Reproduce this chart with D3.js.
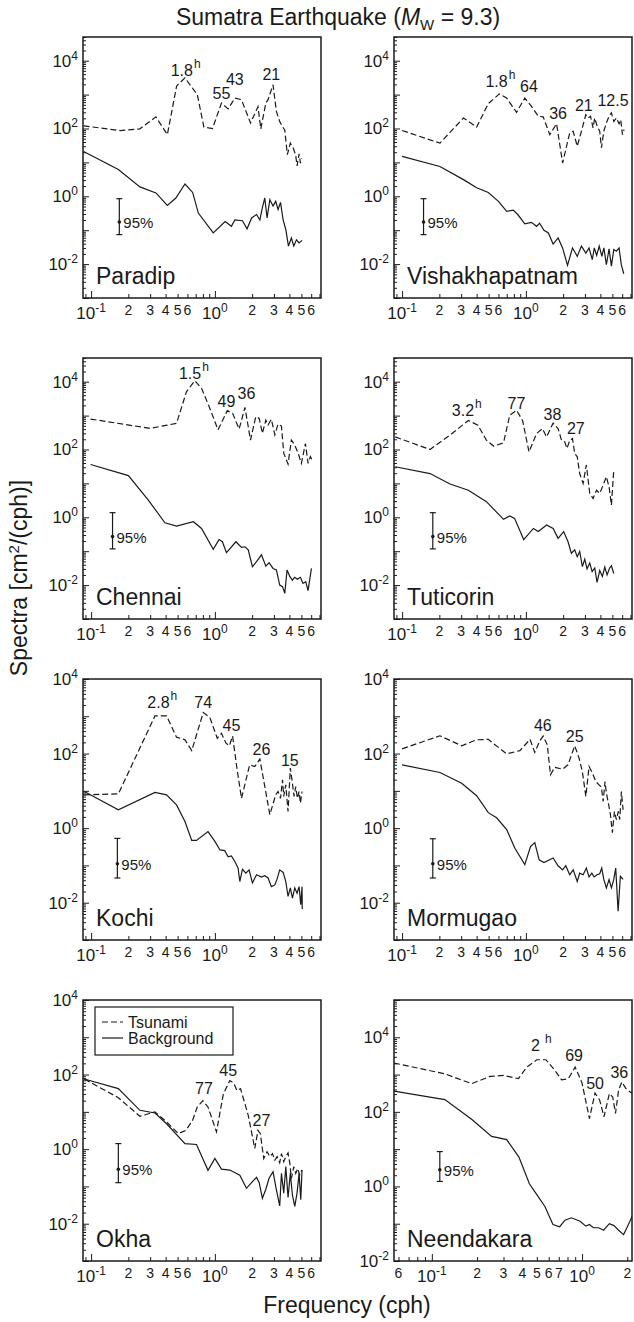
<!DOCTYPE html>
<html>
<head>
<meta charset="utf-8">
<script src="https://cdn.jsdelivr.net/npm/d3@7"></script>
<style>
  body { margin: 0; background: #fff; }
  svg { display: block; font-family: "Liberation Sans", Arial, Helvetica, sans-serif; }
</style>
</head>
<body>
<script>
// spectra: [frequency (cph), spectral density (cm^2/cph)]
var paradipTsunami = [[0.087,120],[0.171,87],[0.248,98],[0.334,220],[0.413,66],[0.491,1800],[0.573,3100],[0.721,1000],[0.815,110],[0.957,100],[1.13,560],[1.28,380],[1.45,790],[1.64,710],[1.94,145],[2.23,440],[2.35,98],[2.58,560],[2.69,710],[2.95,1950],[3.14,320],[3.34,160],[3.52,115],[3.67,89],[3.85,17],[4.07,37],[4.29,27],[4.50,16],[4.61,7.9],[4.79,18],[4.91,9.5],[5.04,13]];
var paradipBackground = [[0.087,21],[0.166,6.2],[0.248,1.9],[0.334,1.26],[0.413,0.54],[0.484,0.89],[0.573,2.3],[0.661,1.3],[0.735,0.32],[0.97,0.083],[1.21,0.18],[1.36,0.13],[1.45,0.20],[1.67,0.19],[1.82,0.11],[1.98,0.23],[2.17,0.29],[2.31,0.20],[2.42,0.46],[2.53,0.89],[2.64,0.23],[2.78,0.79],[2.95,0.52],[3.10,0.71],[3.24,0.41],[3.39,0.66],[3.56,0.20],[3.74,0.105],[3.93,0.034],[4.15,0.059],[4.34,0.034],[4.56,0.052],[4.79,0.042],[5.06,0.050]];
var paradipPeaks = [["1.8", true, 0.54, 3600], ["55", false, 1.13, 760], ["43", false, 1.45, 1950], ["21", false, 2.86, 2750]];
var paradipBar = [0.169, 0.85, 0.175, 0.074];

var vishaTsunami = [[0.10,87],[0.202,37],[0.313,204],[0.40,110],[0.497,540],[0.61,1050],[0.70,790],[0.84,300],[0.98,790],[1.11,450],[1.26,230],[1.38,220],[1.56,66],[1.77,138],[1.98,9.6],[2.26,74],[2.41,83],[2.60,30],[2.81,83],[3.05,257],[3.18,204],[3.33,230],[3.49,104],[3.60,204],[3.76,120],[3.95,83],[4.08,27],[4.26,83],[4.47,145],[4.70,230],[4.91,290],[5.13,162],[5.39,204],[5.66,138],[5.84,182],[6.03,66],[6.21,93]];
var vishaBackground = [[0.10,15],[0.202,7.6],[0.313,3.1],[0.40,1.78],[0.497,1.3],[0.60,0.71],[0.70,0.36],[0.79,0.39],[0.86,0.29],[0.98,0.155],[1.11,0.17],[1.22,0.13],[1.29,0.16],[1.40,0.10],[1.52,0.083],[1.66,0.039],[1.82,0.059],[1.98,0.030],[2.17,0.0092],[2.38,0.030],[2.60,0.017],[2.81,0.034],[3.05,0.021],[3.24,0.030],[3.44,0.0135],[3.57,0.030],[3.73,0.018],[3.91,0.034],[4.11,0.017],[4.27,0.030],[4.47,0.0096],[4.70,0.028],[4.91,0.0087],[5.13,0.027],[5.39,0.024],[5.66,0.030],[5.90,0.0096],[6.18,0.0052]];
var vishaPeaks = [["1.8", true, 0.58, 1700], ["64", false, 1.06, 1170], ["36", false, 1.82, 190], ["21", false, 2.94, 320], ["12.5", false, 5.06, 470]];
var vishaBar = [0.149, 0.85, 0.175, 0.074];

var chennaiTsunami = [[0.099,790],[0.299,420],[0.49,590],[0.59,5100],[0.69,10700],[0.78,6400],[0.90,1820],[1.06,380],[1.26,1400],[1.39,1170],[1.57,400],[1.75,1740],[1.94,190],[2.14,930],[2.28,830],[2.42,300],[2.58,740],[2.69,530],[2.86,780],[3.05,270],[3.24,560],[3.45,490],[3.60,78],[3.90,37],[4.15,190],[4.42,135],[4.70,78],[5.00,39],[5.39,150],[5.66,39],[5.91,62],[6.10,49]];
var chennaiBackground = [[0.099,36],[0.20,17],[0.29,3.2],[0.395,0.69],[0.49,0.55],[0.67,0.74],[0.78,0.47],[0.97,0.114],[1.08,0.22],[1.15,0.19],[1.24,0.091],[1.48,0.19],[1.64,0.13],[1.75,0.135],[1.86,0.109],[2.01,0.035],[2.17,0.049],[2.38,0.078],[2.58,0.036],[2.74,0.046],[2.95,0.031],[3.14,0.028],[3.34,0.010],[3.52,0.009],[3.67,0.0057],[3.83,0.028],[4.03,0.018],[4.23,0.014],[4.42,0.017],[4.64,0.0148],[4.91,0.017],[5.15,0.0112],[5.42,0.0126],[5.66,0.0069],[5.84,0.0148],[6.03,0.031]];
var chennaiPeaks = [["1.5", true, 0.63, 12000], ["49", false, 1.24, 1740], ["36", false, 1.80, 3000]];
var chennaiBar = [0.149, 1.37, 0.27, 0.117];

var tuticorinTsunami = [[0.088,235],[0.168,100],[0.244,265],[0.343,720],[0.41,520],[0.48,188],[0.55,125],[0.66,158],[0.74,1020],[0.84,1440],[0.94,720],[1.06,85],[1.22,295],[1.36,415],[1.47,235],[1.66,600],[1.82,415],[1.94,188],[2.06,168],[2.15,107],[2.26,188],[2.38,210],[2.48,76],[2.60,61],[2.72,19.5],[2.90,10],[3.08,35],[3.28,5.1],[3.49,3.6],[3.72,6.3],[3.95,5.1],[4.21,8.9],[4.47,15.8],[4.70,7.9],[4.91,2.3],[5.13,25]];
var tuticorinBackground = [[0.088,31],[0.168,19.5],[0.244,9.6],[0.343,6.3],[0.48,2.9],[0.66,0.87],[0.74,1.1],[0.81,0.93],[0.96,0.22],[1.15,0.47],[1.26,0.38],[1.47,0.59],[1.66,0.47],[1.82,0.24],[2.02,0.38],[2.19,0.19],[2.33,0.087],[2.48,0.11],[2.60,0.069],[2.72,0.098],[2.86,0.035],[2.99,0.058],[3.12,0.030],[3.28,0.045],[3.43,0.025],[3.60,0.032],[3.76,0.012],[3.95,0.027],[4.15,0.018],[4.34,0.034],[4.53,0.020],[4.75,0.032],[4.91,0.037],[5.13,0.022]];
var tuticorinPeaks = [["3.2", true, 0.31, 980], ["77", false, 0.84, 1600], ["38", false, 1.64, 760], ["27", false, 2.53, 295]];
var tuticorinBar = [0.177, 1.37, 0.27, 0.117];

var kochiTsunami = [[0.088,7.8],[0.166,8.3],[0.328,1020],[0.407,1020],[0.49,275],[0.573,234],[0.65,120],[0.805,1260],[0.91,930],[1.045,257],[1.13,350],[1.23,190],[1.31,162],[1.39,295],[1.50,45],[1.64,6.3],[1.91,50],[2.10,45],[2.31,71],[2.78,2.3],[3.10,7.8],[3.24,9.6],[3.39,6.3],[3.52,19.7],[3.60,7.1],[3.74,14.5],[3.90,2.8],[4.07,41],[4.23,16],[4.36,7.1],[4.50,13],[4.64,6.3],[4.79,9.6],[4.91,4.7],[5.06,9.6]];
var kochiBackground = [[0.088,9.6],[0.166,3.1],[0.328,9.1],[0.407,7.8],[0.49,4.2],[0.573,1.5],[0.65,0.47],[0.71,0.47],[0.88,0.81],[1.0,0.44],[1.10,0.26],[1.20,0.25],[1.28,0.17],[1.36,0.18],[1.45,0.128],[1.54,0.085],[1.59,0.037],[1.67,0.079],[1.78,0.062],[1.89,0.076],[2.01,0.034],[2.17,0.056],[2.38,0.049],[2.53,0.053],[2.69,0.046],[2.86,0.027],[3.05,0.030],[3.18,0.043],[3.34,0.076],[3.56,0.065],[3.74,0.037],[3.90,0.0148],[4.07,0.025],[4.23,0.0133],[4.42,0.025],[4.61,0.018],[4.79,0.027],[4.94,0.0089],[5.06,0.027],[5.08,0.0068]];
var kochiPeaks = [["2.8", true, 0.35, 1630], ["74", false, 0.805, 1630], ["45", false, 1.36, 415], ["26", false, 2.38, 92], ["15", false, 4.03, 47]];
var kochiBar = [0.163, 0.53, 0.111, 0.046];

var mormugaoTsunami = [[0.10,134],[0.202,300],[0.303,162],[0.40,234],[0.497,240],[0.70,98],[0.895,120],[1.08,240],[1.18,107],[1.30,224],[1.38,295],[1.49,170],[1.58,27],[1.71,43],[1.98,38],[2.19,50],[2.48,162],[2.69,75],[2.86,33],[3.05,7.1],[3.24,45],[3.45,30],[3.67,17.8],[3.90,14.5],[4.07,12.6],[4.21,5.2],[4.36,17.8],[4.47,8.7],[4.64,4.7],[4.82,2.3],[5.00,0.76],[5.19,2.8],[5.39,1.7],[5.58,2.8],[5.73,1.7],[5.91,9.6],[6.10,3.1]];
var mormugaoBackground = [[0.10,50],[0.202,31],[0.303,16],[0.40,7.4],[0.497,2.6],[0.58,1.9],[0.70,0.91],[0.815,0.29],[0.98,0.105],[1.09,0.32],[1.18,0.41],[1.28,0.141],[1.40,0.12],[1.66,0.158],[1.82,0.098],[1.98,0.076],[2.10,0.098],[2.26,0.056],[2.41,0.076],[2.60,0.037],[2.72,0.062],[2.90,0.056],[3.08,0.085],[3.24,0.049],[3.41,0.062],[3.56,0.049],[3.76,0.056],[3.95,0.060],[4.10,0.085],[4.26,0.042],[4.47,0.025],[4.70,0.042],[4.91,0.025],[5.13,0.042],[5.32,0.085],[5.56,0.0059],[5.80,0.051],[6.10,0.042]];
var mormugaoPeaks = [["46", false, 1.37, 415], ["25", false, 2.48, 210]];
var mormugaoBar = [0.177, 0.52, 0.111, 0.046];

var okhaTsunami = [[0.088,76],[0.166,24],[0.248,7.6],[0.328,10],[0.407,5.4],[0.506,2.6],[0.583,3.2],[0.66,5.9],[0.72,13.5],[0.80,20],[0.88,13.5],[1.03,2.9],[1.17,30],[1.32,69],[1.42,59],[1.51,37],[1.61,42],[1.86,8.1],[2.10,1.04],[2.23,3.2],[2.33,2.6],[2.48,0.56],[2.64,0.85],[2.78,0.63],[2.92,0.76],[3.05,0.51],[3.18,0.63],[3.34,0.43],[3.45,0.76],[3.60,0.46],[3.74,0.63],[3.90,0.79],[4.03,0.42],[4.15,0.165],[4.34,0.34],[4.50,0.224],[4.67,0.30],[4.84,0.20],[5.03,0.275]];
var okhaBackground = [[0.088,76],[0.166,42],[0.248,11],[0.328,9.3],[0.407,4.8],[0.573,1.41],[0.71,1.33],[0.88,0.27],[1.0,0.56],[1.13,0.29],[1.32,0.275],[1.59,0.20],[1.80,0.089],[2.01,0.134],[2.17,0.175],[2.28,0.126],[2.42,0.048],[2.58,0.084],[2.74,0.165],[2.95,0.25],[3.14,0.081],[3.34,0.030],[3.45,0.224],[3.60,0.066],[3.74,0.34],[3.90,0.051],[4.07,0.224],[4.23,0.059],[4.42,0.029],[4.61,0.066],[4.79,0.224],[4.94,0.044],[5.06,0.275]];
var okhaPeaks = [["77", false, 0.815, 30], ["45", false, 1.28, 94], ["27", false, 2.38, 4.2]];
var okhaBar = [0.166, 1.41, 0.29, 0.126];

var neendakaraTsunami = [[0.056,2040],[0.122,1050],[0.184,570],[0.244,890],[0.30,950],[0.377,775],[0.428,1580],[0.50,2500],[0.575,2500],[0.66,1290],[0.73,725],[0.81,775],[0.90,1580],[1.0,590],[1.12,66],[1.22,320],[1.31,205],[1.40,74],[1.52,310],[1.60,250],[1.67,91],[1.75,380],[1.84,630],[1.96,420],[2.09,340],[2.18,310]];
var neendakaraBackground = [[0.056,360],[0.122,213],[0.184,63],[0.25,22],[0.315,18],[0.38,6.1],[0.446,1.18],[0.50,0.60],[0.566,0.29],[0.64,0.095],[0.71,0.083],[0.77,0.124],[0.85,0.144],[0.97,0.117],[1.06,0.086],[1.12,0.095],[1.19,0.078],[1.29,0.078],[1.39,0.067],[1.52,0.10],[1.63,0.089],[1.75,0.067],[1.89,0.051],[2.01,0.086],[2.18,0.175]];
var neendakaraPeaks = [["2", true, 0.49, 4200], ["69", false, 0.885, 2300], ["50", false, 1.22, 420], ["36", false, 1.77, 830]];
var neendakaraBar = [0.113, 8.6, 2.8, 1.36];

// axes
var stdFreq = [0.086, 7.2];
var neendakaraFreq = [0.056, 2.15];
var yTickExps = [4, 2, 0, -2];
var stdMinorLabels = [0.2, 0.3, 0.4, 0.5, 0.6, 2, 3, 4, 5, 6];
var neendakaraMinorLabels = [0.06, 0.2, 0.3, 0.4, 0.5, 0.6, 0.7, 2];

var W = 634, H = 1322;
var colX = [83, 394], rowY = [37, 358, 679, 1000];
var pw = 238, ph = 261;

var panels = [
  { name: "Paradip", col: 0, row: 0, xd: stdFreq, yd: [1e-3, 5e4], ts: paradipTsunami, bg: paradipBackground, peaks: paradipPeaks, bar: paradipBar, minor: stdMinorLabels },
  { name: "Vishakhapatnam", col: 1, row: 0, xd: stdFreq, yd: [1e-3, 5e4], ts: vishaTsunami, bg: vishaBackground, peaks: vishaPeaks, bar: vishaBar, minor: stdMinorLabels },
  { name: "Chennai", col: 0, row: 1, xd: stdFreq, yd: [1e-3, 5e4], ts: chennaiTsunami, bg: chennaiBackground, peaks: chennaiPeaks, bar: chennaiBar, minor: stdMinorLabels },
  { name: "Tuticorin", col: 1, row: 1, xd: stdFreq, yd: [1e-3, 5e4], ts: tuticorinTsunami, bg: tuticorinBackground, peaks: tuticorinPeaks, bar: tuticorinBar, minor: stdMinorLabels },
  { name: "Kochi", col: 0, row: 2, xd: stdFreq, yd: [1e-3, 1e4], ts: kochiTsunami, bg: kochiBackground, peaks: kochiPeaks, bar: kochiBar, minor: stdMinorLabels },
  { name: "Mormugao", col: 1, row: 2, xd: stdFreq, yd: [1e-3, 1e4], ts: mormugaoTsunami, bg: mormugaoBackground, peaks: mormugaoPeaks, bar: mormugaoBar, minor: stdMinorLabels },
  { name: "Okha", col: 0, row: 3, xd: stdFreq, yd: [1e-3, 1e4], ts: okhaTsunami, bg: okhaBackground, peaks: okhaPeaks, bar: okhaBar, minor: stdMinorLabels, legend: true },
  { name: "Neendakara", col: 1, row: 3, xd: neendakaraFreq, yd: [1e-2, 1e5], ts: neendakaraTsunami, bg: neendakaraBackground, peaks: neendakaraPeaks, bar: neendakaraBar, minor: neendakaraMinorLabels }
];

var ink = "#1a1a1a";

var svg = d3.select("body").append("svg")
  .attr("width", W)
  .attr("height", H);

function isDecade(v) {
  var l = Math.log10(v);
  return Math.abs(l - Math.round(l)) < 1e-6;
}

// "10" with a raised exponent
function powerLabel(sel, exp, supSize, rise) {
  sel.text("10");
  sel.append("tspan").attr("dy", -rise).attr("font-size", supSize).text(exp);
}

panels.forEach(function(p, i) {
  var x0 = colX[p.col], y0 = rowY[p.row];
  var x = d3.scaleLog().domain(p.xd).range([x0, x0 + pw]);
  var y = d3.scaleLog().domain(p.yd).range([y0 + ph, y0]);
  var g = svg.append("g");

  g.append("clipPath").attr("id", "clip" + i)
    .append("rect").attr("x", x0).attr("y", y0).attr("width", pw).attr("height", ph);

  // inward log ticks, long on decades, short in between
  var yt = y.ticks(), xt = x.ticks();
  [[yt.filter(function(v) { return !isDecade(v); }), -3], [yt.filter(isDecade), -6]].forEach(function(t) {
    g.append("g")
      .attr("transform", "translate(" + x0 + ",0)")
      .call(d3.axisLeft(y).tickValues(t[0]).tickSize(t[1]).tickFormat(""))
      .call(function(a) { a.select(".domain").remove(); a.selectAll("line").attr("stroke", ink); });
  });
  [[xt.filter(function(v) { return !isDecade(v); }), -4], [xt.filter(isDecade), -7]].forEach(function(t) {
    g.append("g")
      .attr("transform", "translate(0," + (y0 + ph) + ")")
      .call(d3.axisBottom(x).tickValues(t[0]).tickSize(t[1]).tickFormat(""))
      .call(function(a) { a.select(".domain").remove(); a.selectAll("line").attr("stroke", ink); });
  });

  // y labels
  yTickExps.forEach(function(e) {
    var v = Math.pow(10, e);
    if (v < p.yd[0] * 0.999 || v > p.yd[1] * 1.001) return;
    var t = g.append("text")
      .attr("x", x0 - 5)
      .attr("y", y(v) + 6)
      .attr("text-anchor", "end")
      .attr("font-size", 17)
      .attr("fill", ink);
    powerLabel(t, String(e), 12, 7);
  });

  // x labels: decades and leading digits
  xt.filter(isDecade).forEach(function(v) {
    var t = g.append("text")
      .attr("x", x(v))
      .attr("y", y0 + ph + 21)
      .attr("text-anchor", "middle")
      .attr("font-size", 17)
      .attr("fill", ink);
    powerLabel(t, String(Math.round(Math.log10(v))), 12, 7);
  });
  p.minor.forEach(function(v) {
    g.append("text")
      .attr("x", x(v))
      .attr("y", y0 + ph + 17)
      .attr("text-anchor", "middle")
      .attr("font-size", 14)
      .attr("fill", ink)
      .text(String(Math.round(v / Math.pow(10, Math.floor(Math.log10(v) + 1e-9)))));
  });

  // spectra
  var line = d3.line()
    .x(function(d) { return x(d[0]); })
    .y(function(d) { return y(d[1]); });
  var plot = g.append("g").attr("clip-path", "url(#clip" + i + ")");
  plot.append("path").datum(p.bg)
    .attr("d", line).attr("fill", "none").attr("stroke", ink).attr("stroke-width", 1.2);
  plot.append("path").datum(p.ts)
    .attr("d", line).attr("fill", "none").attr("stroke", ink).attr("stroke-width", 1.2)
    .attr("stroke-dasharray", "6,3");

  // peak periods (minutes, "h" for hours)
  p.peaks.forEach(function(k) {
    var t = g.append("text")
      .attr("x", x(k[2]))
      .attr("y", y(k[3]))
      .attr("text-anchor", "middle")
      .attr("font-size", 16)
      .attr("fill", ink)
      .text(k[0]);
    if (k[1]) {
      var w = t.node().getComputedTextLength();
      g.append("text")
        .attr("x", x(k[2]) + w / 2 + (k[0].length === 1 ? 5 : 1))
        .attr("y", y(k[3]) - 8)
        .attr("font-size", 12)
        .attr("fill", ink)
        .text("h");
    }
  });

  // 95% confidence bar
  var bx = x(p.bar[0]);
  g.append("line").attr("x1", bx).attr("x2", bx).attr("y1", y(p.bar[1])).attr("y2", y(p.bar[3]))
    .attr("stroke", ink).attr("stroke-width", 1.2);
  [p.bar[1], p.bar[3]].forEach(function(v) {
    g.append("line").attr("x1", bx - 3).attr("x2", bx + 3).attr("y1", y(v)).attr("y2", y(v))
      .attr("stroke", ink).attr("stroke-width", 1.2);
  });
  g.append("circle").attr("cx", bx).attr("cy", y(p.bar[2])).attr("r", 1.8).attr("fill", ink);
  g.append("text")
    .attr("x", bx + 4)
    .attr("y", y(p.bar[2]) + 6)
    .attr("font-size", 15)
    .attr("fill", ink)
    .text("95%");

  // station name
  g.append("text")
    .attr("x", x0 + 13)
    .attr("y", y0 + ph - 14)
    .attr("font-size", 23)
    .attr("fill", ink)
    .text(p.name);

  if (p.legend) {
    var lx = x0 + 12, ly = y0 + 7;
    g.append("rect").attr("x", lx).attr("y", ly).attr("width", 138).attr("height", 48)
      .attr("fill", "#fff").attr("stroke", ink).attr("stroke-width", 1.2);
    [["Tsunami", "6,3", 15], ["Background", null, 31]].forEach(function(r) {
      var ln = g.append("line").attr("x1", lx + 7).attr("x2", lx + 28)
        .attr("y1", ly + r[2]).attr("y2", ly + r[2])
        .attr("stroke", ink).attr("stroke-width", 1.2);
      if (r[1]) ln.attr("stroke-dasharray", r[1]);
      g.append("text").attr("x", lx + 33).attr("y", ly + r[2] + 6)
        .attr("font-size", 16).attr("fill", ink).text(r[0]);
    });
  }

  g.append("rect").attr("x", x0).attr("y", y0).attr("width", pw).attr("height", ph)
    .attr("fill", "none").attr("stroke", ink).attr("stroke-width", 1.5);
});

// title
var title = svg.append("text")
  .attr("x", 338).attr("y", 25)
  .attr("text-anchor", "middle")
  .attr("font-size", 23)
  .attr("fill", ink);
title.append("tspan").text("Sumatra Earthquake (");
title.append("tspan").attr("font-style", "italic").text("M");
title.append("tspan").attr("font-size", 15).attr("dy", 5).text("W");
title.append("tspan").attr("dy", -5).text(" = 9.3)");

// axis titles
var ylab = svg.append("text")
  .attr("transform", "translate(27,578) rotate(-90)")
  .attr("text-anchor", "middle")
  .attr("font-size", 23)
  .attr("fill", ink);
ylab.append("tspan").text("Spectra [cm");
ylab.append("tspan").attr("font-size", 15).attr("dy", -8).text("2");
ylab.append("tspan").attr("dy", 8).text("/(cph)]");

svg.append("text")
  .attr("x", 347).attr("y", 1313)
  .attr("text-anchor", "middle")
  .attr("font-size", 23)
  .attr("fill", ink)
  .text("Frequency (cph)");
</script>
</body>
</html>
